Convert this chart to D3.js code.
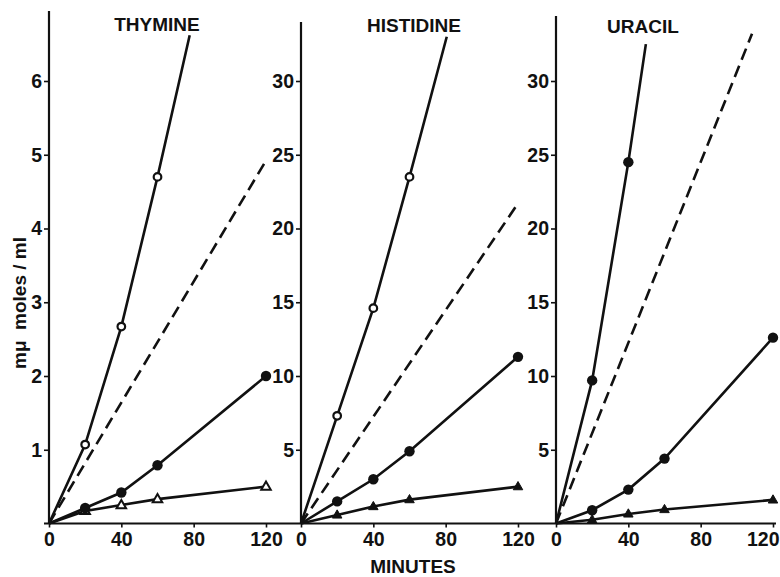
<!DOCTYPE html>
<html>
<head>
<meta charset="utf-8">
<script src="https://cdn.jsdelivr.net/npm/d3@7"></script>
<style>
  html, body { margin: 0; padding: 0; background: #fff; }
  svg { display: block; }
  text { font-family: "Liberation Sans", Arial, sans-serif; font-weight: bold; fill: #111; }
</style>
</head>
<body>
<svg id="chart" width="780" height="577"></svg>
<script>
// ---------- DATA ----------
const panelTitles = ["THYMINE", "HISTIDINE", "URACIL"];
const minutes = [0, 20, 40, 60, 120];
const xTicks = [0, 40, 80, 120];
const yTicksThymine = [1, 2, 3, 4, 5, 6];
const yTicksOther = [5, 10, 15, 20, 25, 30];
const yAxisTop = [6.95, 34.0, 34.4];

// Thymine
const thyUpper = [0, 1.07, 2.67, 4.70];      // open circles at 0,20,40,60
const thyUpperEnd = [77.8, 6.62];            // line continues to here
const thyDashedEnd = [120, 4.92];
const thyMid = [0, 0.21, 0.42, 0.79, 2.00];  // filled circles
const thyLow = [0, 0.17, 0.25, 0.33, 0.50];  // open triangles

// Histidine
const hisUpper = [0, 7.3, 14.6, 23.5];       // open circles
const hisUpperEnd = [80.6, 33.0];
const hisDashedEnd = [120, 21.7];
const hisMid = [0, 1.5, 3.0, 4.9, 11.3];     // filled circles
const hisLow = [0, 0.58, 1.15, 1.62, 2.5];   // filled triangles

// Uracil
const uraUpper = [0, 9.7, 24.5];             // filled circles at 0,20,40
const uraUpperEnd = [49.7, 32.5];
const uraDashedEnd = [108.4, 33.2];
const uraMid = [0, 0.9, 2.3, 4.4, 12.6];     // filled circles
const uraLow = [0, 0.25, 0.65, 0.95, 1.6];   // filled triangles

// ---------- BUILD ----------
const panels = [
  { title: panelTitles[0], yTicks: yTicksThymine, yTop: yAxisTop[0], tickMax: 6,
    upper: thyUpper, upperEnd: thyUpperEnd, upperMarker: "openCircle",
    dashedEnd: thyDashedEnd, mid: thyMid, low: thyLow, lowMarker: "openTri" },
  { title: panelTitles[1], yTicks: yTicksOther, yTop: yAxisTop[1], tickMax: 30,
    upper: hisUpper, upperEnd: hisUpperEnd, upperMarker: "openCircle",
    dashedEnd: hisDashedEnd, mid: hisMid, low: hisLow, lowMarker: "filledTri" },
  { title: panelTitles[2], yTicks: yTicksOther, yTop: yAxisTop[2], tickMax: 30,
    upper: uraUpper, upperEnd: uraUpperEnd, upperMarker: "filledCircle",
    dashedEnd: uraDashedEnd, mid: uraMid, low: uraLow, lowMarker: "filledTri" }
];

const svg = d3.select("#chart");
const base = 523.5;
const topTick = 81;
const xStarts = [49, 301, 556];
const xWidth = 217;
const titleX = [157, 414, 643];
const titleY = [31, 32, 33];
const ink = "#111";
const lw = 2.6;

const lineGen = d3.line();
const fontFam = "'Liberation Sans', Arial, sans-serif";

panels.forEach((p, i) => {
  const x = d3.scaleLinear().domain([0, 120]).range([xStarts[i], xStarts[i] + xWidth]);
  const y = d3.scaleLinear().domain([0, p.tickMax]).range([base, topTick]);
  const g = svg.append("g");

  // y axis line
  g.append("line")
    .attr("x1", x(0)).attr("x2", x(0))
    .attr("y1", y(0)).attr("y2", y(p.yTop))
    .attr("stroke", ink).attr("stroke-width", 2.2);

  // y axis ticks
  const yAxis = d3.axisLeft(y).tickValues(p.yTicks).tickSize(5).tickPadding(2)
    .tickFormat(d3.format("d"));
  const ya = g.append("g").attr("transform", `translate(${x(0)},0)`).call(yAxis);
  ya.select(".domain").remove();
  ya.selectAll(".tick line").attr("stroke", ink).attr("stroke-width", 1.6);
  ya.selectAll(".tick text").attr("font-size", 19.5).attr("font-family", null)
    .style("font-family", fontFam).attr("fill", ink);

  // x axis ticks
  const xAxis = d3.axisBottom(x).tickValues(xTicks).tickSize(4).tickPadding(5)
    .tickFormat(d3.format("d"));
  const xa = g.append("g").attr("transform", `translate(0,${base})`).call(xAxis);
  xa.select(".domain").remove();
  xa.selectAll(".tick line").attr("stroke", ink).attr("stroke-width", 1.6);
  xa.selectAll(".tick text").attr("font-size", 19.5).attr("font-family", null)
    .style("font-family", fontFam).attr("fill", ink);
  if (i === panels.length - 1) {
    xa.selectAll(".tick text").filter(d => d === 120).attr("text-anchor", "end").attr("x", 6);
  }

  // title
  g.append("text")
    .attr("x", titleX[i]).attr("y", titleY[i])
    .attr("text-anchor", "middle").attr("font-size", 19)
    .text(p.title);

  // dashed line
  g.append("path")
    .attr("d", lineGen([[x(0), y(0)], [x(p.dashedEnd[0]), y(p.dashedEnd[1])]]))
    .attr("fill", "none").attr("stroke", ink).attr("stroke-width", lw)
    .attr("stroke-dasharray", "12,6.5");

  // upper solid line
  const upPts = p.upper.map((v, k) => [x(minutes[k]), y(v)]);
  upPts.push([x(p.upperEnd[0]), y(p.upperEnd[1])]);
  g.append("path").attr("d", lineGen(upPts))
    .attr("fill", "none").attr("stroke", ink).attr("stroke-width", lw);

  // mid & low lines
  [p.mid, p.low].forEach(arr => {
    g.append("path").attr("d", lineGen(arr.map((v, k) => [x(minutes[k]), y(v)])))
      .attr("fill", "none").attr("stroke", ink).attr("stroke-width", lw);
  });

  // markers
  const drawMarker = (type, cx, cy) => {
    if (type === "openCircle") {
      g.append("circle").attr("cx", cx).attr("cy", cy).attr("r", 3.8)
        .attr("fill", "#fff").attr("stroke", ink).attr("stroke-width", 2.2);
    } else if (type === "filledCircle") {
      g.append("circle").attr("cx", cx).attr("cy", cy).attr("r", 5.2).attr("fill", ink);
    } else {
      const s = 9.5, h = s * Math.sqrt(3) / 2;
      const pts = [[cx, cy - h * 0.62], [cx - s / 2, cy + h * 0.38], [cx + s / 2, cy + h * 0.38]];
      g.append("path").attr("d", d3.line()(pts) + "Z")
        .attr("fill", type === "openTri" ? "#fff" : ink)
        .attr("stroke", ink).attr("stroke-width", type === "openTri" ? 2 : 1);
    }
  };
  p.low.forEach((v, k) => { if (k > 0) drawMarker(p.lowMarker, x(minutes[k]), y(v)); });
  p.mid.forEach((v, k) => { if (k > 0) drawMarker("filledCircle", x(minutes[k]), y(v)); });
  p.upper.forEach((v, k) => { if (k > 0) drawMarker(p.upperMarker, x(minutes[k]), y(v)); });
});

// continuous x baseline
svg.append("line")
  .attr("x1", xStarts[0] - 5).attr("x2", xStarts[2] + xWidth + 3)
  .attr("y1", base).attr("y2", base)
  .attr("stroke", ink).attr("stroke-width", 2.2);

// axis labels
svg.append("text")
  .attr("x", 413).attr("y", 573)
  .attr("text-anchor", "middle").attr("font-size", 19)
  .text("MINUTES");

svg.append("text")
  .attr("transform", "translate(26,303) rotate(-90)")
  .attr("text-anchor", "middle").attr("font-size", 19)
  .attr("xml:space", "preserve")
  .text("mμ  moles / ml");
</script>
</body>
</html>
